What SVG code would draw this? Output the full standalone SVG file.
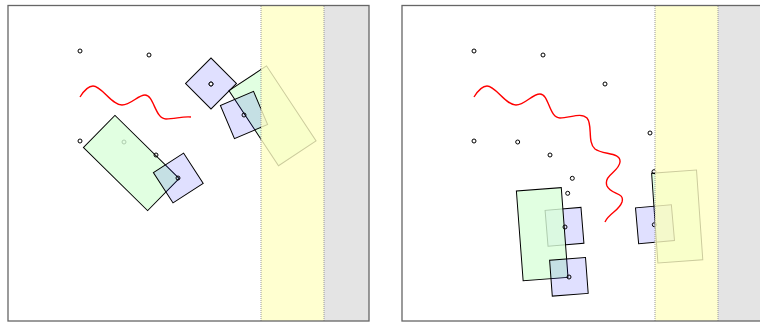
<svg xmlns="http://www.w3.org/2000/svg" width="760" height="322" viewBox="0 0 760 322">
<style>
.pt{fill:#fff;stroke:#000;stroke-width:1}
.wave{fill:none;stroke:#f00;stroke-width:1.4}
.grn{fill:#d9ffd9;fill-opacity:0.8;stroke:#000;stroke-width:1}
.blu{fill:#0000ff;fill-opacity:0.12;stroke:#000;stroke-width:1}
.band{fill:#ffffc4;opacity:0.8}
.gry{fill:#e4e4e4}
.dot{stroke:#999;stroke-width:1;stroke-dasharray:1 1;fill:none}
.frame{fill:none;stroke:#666;stroke-width:1.3}
</style>
<defs>
<clipPath id="cl"><rect x="8" y="6" width="361" height="315"/></clipPath>
<clipPath id="cr"><rect x="402" y="6" width="358" height="315"/></clipPath>
</defs>
<rect x="0" y="0" width="760" height="322" fill="#fff"/>

<g id="panel-left" clip-path="url(#cl)">
  <g id="points-left">
    <circle class="pt" cx="80" cy="51" r="2"/>
    <circle class="pt" cx="149" cy="55" r="2"/>
    <circle class="pt" cx="80" cy="141" r="2"/>
    <circle class="pt" cx="124" cy="142" r="2"/>
    <circle class="pt" cx="211" cy="84" r="2"/>
  </g>
  <path id="wave-left" class="wave" d="M80,97 C85,89 89,86 93,86 C102,86 111,105 122,105 C131,105 138,95 145,95 C154,95 155,119 166,119 C175,119 183,116 191,117"/>
  <g id="green-left-1"><rect class="grn" x="-45" y="-22.5" width="90" height="45" transform="translate(131.3,163) rotate(44.5)"/></g>
  <g id="green-left-2"><rect class="grn" x="-45" y="-22.5" width="90" height="45" transform="translate(272.5,115.8) rotate(56.6)"/></g>
  <g id="blue-left-a"><rect class="blu" x="-18" y="-18" width="36" height="36" transform="translate(211,83.5) rotate(45)"/><circle class="pt" cx="211" cy="84" r="2"/></g>
  <g id="blue-left-b"><rect class="blu" x="-18" y="-18" width="36" height="36" transform="translate(244,115) rotate(-23)"/><circle class="pt" cx="244" cy="115" r="2" fill-opacity="0"/></g>
  <g id="blue-left-c"><rect class="blu" x="-18" y="-18" width="36" height="36" transform="translate(178.3,178) rotate(-33)"/><circle class="pt" cx="178" cy="178" r="2" fill-opacity="0"/></g>
  <circle class="pt" cx="156" cy="155" r="2" fill-opacity="0"/>
  <rect class="band" x="261" y="6" width="63" height="315"/>
  <rect class="gry" x="324" y="6" width="45" height="315"/>
  <line class="dot" x1="261" y1="6" x2="261" y2="321"/>
  <line class="dot" x1="324" y1="6" x2="324" y2="321"/>
</g>
<rect class="frame" x="8" y="5.5" width="361" height="315.5"/>

<g id="panel-right" clip-path="url(#cr)">
  <g id="points-right">
    <circle class="pt" cx="474" cy="51" r="2"/>
    <circle class="pt" cx="543" cy="55" r="2"/>
    <circle class="pt" cx="605" cy="84" r="2"/>
    <circle class="pt" cx="650" cy="133" r="2"/>
    <circle class="pt" cx="474" cy="141" r="2"/>
    <circle class="pt" cx="517.7" cy="142" r="2"/>
    <circle class="pt" cx="550" cy="155" r="2"/>
    <circle class="pt" cx="572.3" cy="178.3" r="2"/>
    <circle class="pt" cx="567.7" cy="193.3" r="2"/>
  </g>
  <path id="wave-right" class="wave" d="M474,97 C479,89 483,86 487,86 C496,86 505,105 516,105 C525,105 532,94 540,94 C549,94 549,118 560,118 C570,118 581,112 587,118 C593,125 587,142 595,149 C603,155 621,152 620,162 C619,172 603,175 607,186 C611,195 625,192 622,202 C619,211 609,213 605,222"/>
  <g id="blue-right-a"><rect class="blu" x="-18" y="-18" width="36" height="36" transform="translate(564.5,226.8) rotate(-4.7)"/></g>
  <g id="green-right-1"><rect class="grn" x="-22.5" y="-45" width="45" height="90" transform="translate(542.2,234.2) rotate(-4.3)"/></g>
  <circle class="pt" cx="565" cy="227" r="2" fill-opacity="0"/>
  <g id="blue-right-b"><rect class="blu" x="-18" y="-18" width="36" height="36" transform="translate(568.9,276.8) rotate(-4.3)"/><circle class="pt" cx="569" cy="277" r="2" fill-opacity="0"/></g>
  <g id="green-right-2"><rect class="grn" x="-22.5" y="-45" width="45" height="90" transform="translate(677.2,216.5) rotate(-4)"/><circle class="pt" cx="654" cy="171.7" r="2" fill-opacity="0"/></g>
  <g id="blue-right-c"><rect class="blu" x="-18" y="-18" width="36" height="36" transform="translate(655,224.2) rotate(-5)"/><circle class="pt" cx="654.3" cy="224.7" r="2" fill-opacity="0"/></g>
  <rect class="band" x="655" y="6" width="63" height="315"/>
  <rect class="gry" x="718" y="6" width="42" height="315"/>
  <line class="dot" x1="655" y1="6" x2="655" y2="321"/>
  <line class="dot" x1="718" y1="6" x2="718" y2="321"/>
</g>
<rect class="frame" x="402" y="5.5" width="362" height="315.5"/>
</svg>
